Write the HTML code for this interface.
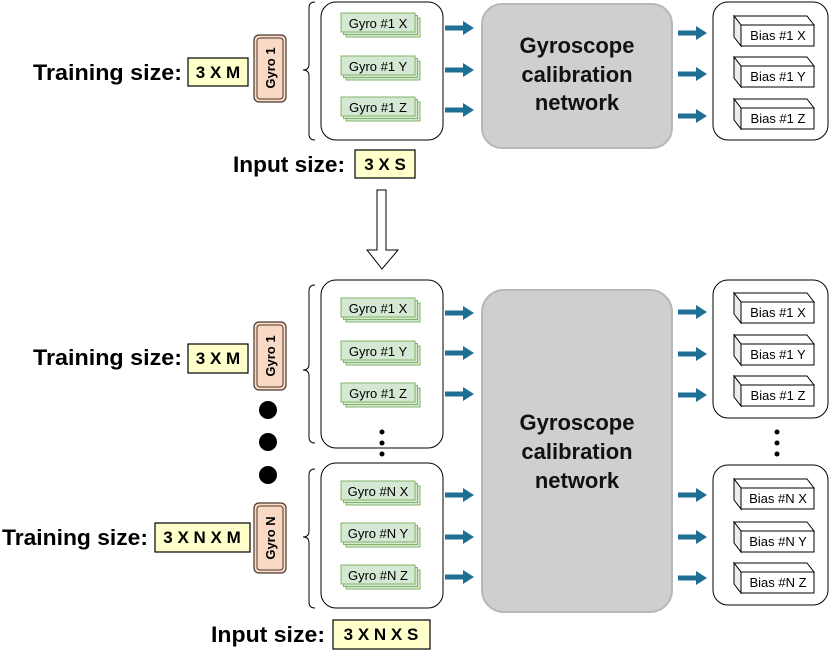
<!DOCTYPE html>
<html><head><meta charset="utf-8"><style>
html,body{margin:0;padding:0;background:#fff;}
svg{display:block;font-family:"Liberation Sans",Arial,sans-serif;}
.lbl{font-size:22px;font-weight:bold;fill:#000;}
.yb{fill:#ffffcc;stroke:#000;stroke-width:1.2;}
.yt{font-size:17px;font-weight:bold;text-anchor:middle;}
.gt{font-size:13px;text-anchor:middle;}
.bt{font-size:13px;text-anchor:middle;}
.net{font-size:22px;font-weight:bold;text-anchor:middle;fill:#111;}
</style></head><body>
<svg width="834" height="656" viewBox="0 0 834 656">
<defs>
<g id="gy">
<rect x="5" y="5" width="74" height="19" fill="#d5e8d4" stroke="#82b366"/>
<rect x="2.5" y="2.5" width="74" height="19" fill="#d5e8d4" stroke="#82b366"/>
<rect x="0" y="0" width="74" height="19" fill="#d5e8d4" stroke="#82b366"/>
</g>
<g id="bi">
<polygon points="-8,-19 -1,-10 72,-10 65,-19" fill="#fff" stroke="#000"/>
<polygon points="-8,-19 -1,-10 -1,11 -8,2" fill="#eee" stroke="#000"/>
<polygon points="-1,-10 72,-10 72,11 -1,11" fill="#fff" stroke="#000"/>
</g>
<g id="ar">
<path d="M0,-2.5 H18 V-7 L29,0 L18,7 V2.5 H0 Z" fill="#1f6e94"/>
</g>
</defs>

<!-- TOP -->
<text class="lbl" x="33" y="80" textLength="149" lengthAdjust="spacingAndGlyphs">Training size:</text>
<rect class="yb" x="188" y="58" width="60" height="28"/>
<text class="yt" x="218" y="78">3 X M</text>
<rect x="254" y="35" width="32" height="67" rx="5" fill="#fad9c4" stroke="#4a3a30" stroke-width="1.2"/>
<rect x="257" y="38" width="26" height="61" rx="3" fill="none" stroke="#4a3a30"/>
<text transform="translate(275,68) rotate(-90)" font-size="13" font-weight="bold" text-anchor="middle">Gyro 1</text>
<path d="M315,2 Q309,2 309,8 V64 Q309,70 303,70 Q309,70 309,76 V134 Q309,140 315,140" fill="none" stroke="#000"/>
<rect x="321" y="2" width="122" height="138" rx="15" fill="#fff" stroke="#000"/>
<use href="#gy" x="341" y="13"/><text class="gt" x="378" y="28">Gyro #1 X</text>
<use href="#gy" x="341" y="56"/><text class="gt" x="378" y="71">Gyro #1 Y</text>
<use href="#gy" x="341" y="97"/><text class="gt" x="378" y="112">Gyro #1 Z</text>
<use href="#ar" x="445" y="28"/><use href="#ar" x="445" y="70"/><use href="#ar" x="445" y="110"/>
<rect x="482" y="4" width="190" height="144" rx="20" fill="#cfcfcf" stroke="#b8b8b8" stroke-width="2"/>
<text class="net" x="577" y="53">Gyroscope</text>
<text class="net" x="577" y="82">calibration</text>
<text class="net" x="577" y="110">network</text>
<use href="#ar" x="678" y="33"/><use href="#ar" x="678" y="74"/><use href="#ar" x="678" y="116"/>
<rect x="713" y="2" width="115" height="138" rx="15" fill="#fff" stroke="#000"/>
<use href="#bi" x="742" y="35"/><text class="bt" x="778" y="40">Bias #1 X</text>
<use href="#bi" x="742" y="76"/><text class="bt" x="778" y="81">Bias #1 Y</text>
<use href="#bi" x="742" y="118"/><text class="bt" x="778" y="123">Bias #1 Z</text>
<text class="lbl" x="233" y="172" textLength="112" lengthAdjust="spacingAndGlyphs">Input size:</text>
<rect class="yb" x="355" y="150" width="60" height="28"/>
<text class="yt" x="385" y="170">3 X S</text>

<!-- hollow arrow -->
<path d="M377,190 H386 V250 H398 L382,269 L367,250 H377 Z" fill="#fff" stroke="#000"/>

<!-- BOTTOM -->
<text class="lbl" x="33" y="365" textLength="149" lengthAdjust="spacingAndGlyphs">Training size:</text>
<rect class="yb" x="188" y="344" width="60" height="29"/>
<text class="yt" x="218" y="364">3 X M</text>
<rect x="254" y="322" width="32" height="68" rx="5" fill="#fad9c4" stroke="#4a3a30" stroke-width="1.2"/>
<rect x="257" y="325" width="26" height="62" rx="3" fill="none" stroke="#4a3a30"/>
<text transform="translate(275,356) rotate(-90)" font-size="13" font-weight="bold" text-anchor="middle">Gyro 1</text>
<circle cx="268" cy="410" r="9"/><circle cx="268" cy="442" r="9"/><circle cx="268" cy="475" r="9"/>
<rect x="254" y="503" width="32" height="70" rx="5" fill="#fad9c4" stroke="#4a3a30" stroke-width="1.2"/>
<rect x="257" y="506" width="26" height="64" rx="3" fill="none" stroke="#4a3a30"/>
<text transform="translate(275,538) rotate(-90)" font-size="13" font-weight="bold" text-anchor="middle">Gyro N</text>
<text class="lbl" x="2" y="545" textLength="146" lengthAdjust="spacingAndGlyphs">Training size:</text>
<rect class="yb" x="155" y="523" width="95" height="29"/>
<text class="yt" x="202" y="543">3 X N X M</text>

<path d="M315,285 Q309,285 309,291 V364 Q309,370 303,370 Q309,370 309,376 V437 Q309,443 315,443" fill="none" stroke="#000"/>
<rect x="321" y="280" width="122" height="168" rx="15" fill="#fff" stroke="#000"/>
<use href="#gy" x="341" y="298"/><text class="gt" x="378" y="313">Gyro #1 X</text>
<use href="#gy" x="341" y="341"/><text class="gt" x="378" y="356">Gyro #1 Y</text>
<use href="#gy" x="341" y="383"/><text class="gt" x="378" y="398">Gyro #1 Z</text>
<circle cx="382" cy="432" r="2.5"/><circle cx="382" cy="443" r="2.5"/><circle cx="382" cy="454" r="2.5"/>
<path d="M315,469 Q309,469 309,475 V531 Q309,537 303,537 Q309,537 309,543 V602 Q309,608 315,608" fill="none" stroke="#000"/>
<rect x="321" y="463" width="122" height="145" rx="15" fill="#fff" stroke="#000"/>
<use href="#gy" x="341" y="481"/><text class="gt" x="378" y="496">Gyro #N X</text>
<use href="#gy" x="341" y="523"/><text class="gt" x="378" y="538">Gyro #N Y</text>
<use href="#gy" x="341" y="565"/><text class="gt" x="378" y="580">Gyro #N Z</text>
<use href="#ar" x="445" y="313"/><use href="#ar" x="445" y="353"/><use href="#ar" x="445" y="394"/>
<use href="#ar" x="445" y="495"/><use href="#ar" x="445" y="537"/><use href="#ar" x="445" y="577"/>
<rect x="482" y="290" width="190" height="322" rx="22" fill="#cfcfcf" stroke="#b8b8b8" stroke-width="2"/>
<text class="net" x="577" y="430">Gyroscope</text>
<text class="net" x="577" y="459">calibration</text>
<text class="net" x="577" y="488">network</text>
<use href="#ar" x="678" y="312"/><use href="#ar" x="678" y="354"/><use href="#ar" x="678" y="395"/>
<use href="#ar" x="678" y="495"/><use href="#ar" x="678" y="537"/><use href="#ar" x="678" y="578"/>
<rect x="713" y="280" width="115" height="138" rx="15" fill="#fff" stroke="#000"/>
<use href="#bi" x="742" y="312"/><text class="bt" x="778" y="317">Bias #1 X</text>
<use href="#bi" x="742" y="354"/><text class="bt" x="778" y="359">Bias #1 Y</text>
<use href="#bi" x="742" y="395"/><text class="bt" x="778" y="400">Bias #1 Z</text>
<circle cx="777" cy="432" r="2.5"/><circle cx="777" cy="443" r="2.5"/><circle cx="777" cy="454" r="2.5"/>
<rect x="713" y="465" width="115" height="140" rx="15" fill="#fff" stroke="#000"/>
<use href="#bi" x="742" y="498"/><text class="bt" x="778" y="503">Bias #N X</text>
<use href="#bi" x="742" y="541"/><text class="bt" x="778" y="546">Bias #N Y</text>
<use href="#bi" x="742" y="582"/><text class="bt" x="778" y="587">Bias #N Z</text>
<text class="lbl" x="211" y="642" textLength="114" lengthAdjust="spacingAndGlyphs">Input size:</text>
<rect class="yb" x="333" y="620" width="97" height="29"/>
<text class="yt" x="381" y="640">3 X N X S</text>
</svg>
</body></html>
